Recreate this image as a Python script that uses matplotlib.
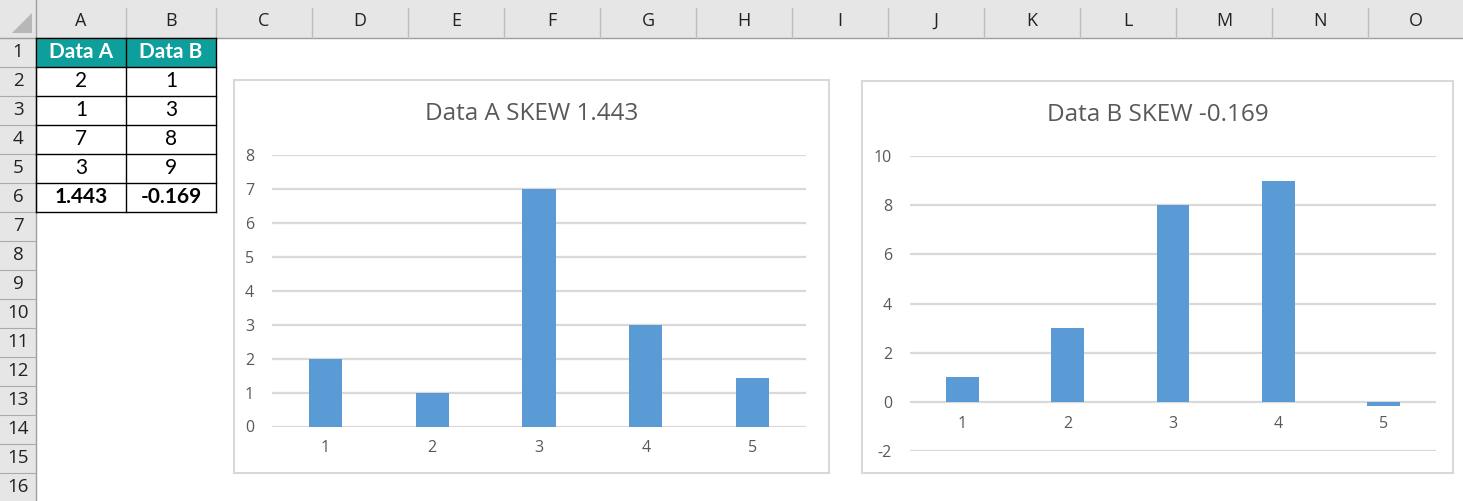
import matplotlib.pyplot as plt
from matplotlib.patches import Rectangle, Polygon

plt.rcParams['axes.unicode_minus'] = False

# spreadsheet contents
col_letters = ['A', 'B', 'C', 'D', 'E', 'F', 'G', 'H', 'I', 'J', 'K', 'L', 'M', 'N', 'O']
row_numbers = list(range(1, 17))
headers = ['Data A', 'Data B']
data_a = [2, 1, 7, 3]
data_b = [1, 3, 8, 9]
skew_a = 1.443
skew_b = -0.169
skew_labels = ['1.443', '-0.169']

# chart series (the values plus the skew cell)
categories = [1, 2, 3, 4, 5]
series_a = data_a + [skew_a]
series_b = data_b + [skew_b]

W, H = 1463, 501
fig = plt.figure(figsize=(W / 100, H / 100), dpi=100)
bg = fig.add_axes([0, 0, 1, 1])
bg.set_xlim(0, W)
bg.set_ylim(H, 0)
bg.axis('off')

cell_font = 'Lato'
head_font = 'Open Sans'
chart_font = 'Open Sans'

# grid geometry
hdr_h = 37.7
row_h = 29.0
rh_w = 36
col_edges = [36, 126, 216]
for i in range(len(col_letters) - 2):
    col_edges.append(col_edges[-1] + 96)

# header backgrounds
bg.add_patch(Rectangle((0, 0), W, hdr_h, color='#E6E6E6', lw=0))
bg.add_patch(Rectangle((0, 0), rh_w, H, color='#E6E6E6', lw=0))
bg.add_patch(Polygon([(12, 33), (32, 33), (32, 13)], color='#B7B7B7', lw=0))
bg.plot([0, W], [hdr_h, hdr_h], color='#9E9E9E', lw=1)
bg.plot([rh_w - 0.5, rh_w - 0.5], [0, H], color='#9E9E9E', lw=1)

for i, letter in enumerate(col_letters):
    x0, x1 = col_edges[i], col_edges[i + 1]
    bg.text((x0 + x1) / 2, 21, letter, ha='center', va='center',
            fontsize=13, family=head_font, color='#222222')
    bg.plot([x1, x1], [8, hdr_h], color='#BDBDBD', lw=1)

for r in row_numbers:
    y0 = hdr_h + (r - 1) * row_h
    bg.text(18, y0 + row_h / 2, str(r), ha='center', va='center',
            fontsize=13.5, family=head_font, color='#222222')
    bg.plot([0, rh_w], [y0 + row_h, y0 + row_h], color='#ABABAB', lw=0.8)

# data table A1:B6
for j, h in enumerate(headers):
    x0, x1 = col_edges[j], col_edges[j + 1]
    bg.add_patch(Rectangle((x0, hdr_h), x1 - x0, row_h, color='#0E9E9B', lw=0))
    bg.text((x0 + x1) / 2, hdr_h + row_h / 2, h, ha='center', va='center',
            fontsize=15, family=cell_font, weight='bold', color='white')

for j, col in enumerate([data_a, data_b]):
    x0, x1 = col_edges[j], col_edges[j + 1]
    for i, v in enumerate(col):
        y0 = hdr_h + (i + 1) * row_h
        bg.text((x0 + x1) / 2, y0 + row_h / 2, str(v), ha='center', va='center',
                fontsize=15, family=cell_font, color='black')
    y0 = hdr_h + 5 * row_h
    bg.text((x0 + x1) / 2, y0 + row_h / 2, skew_labels[j], ha='center', va='center',
            fontsize=15, family=cell_font, weight='bold', color='black')

tb_top, tb_bot = hdr_h, hdr_h + 6 * row_h
for x in col_edges[:3]:
    bg.plot([x, x], [tb_top, tb_bot], color='black', lw=1)
for r in range(7):
    y = hdr_h + r * row_h
    bg.plot([col_edges[0], col_edges[2]], [y, y], color='black', lw=1)

# chart boxes
boxes = [(234, 80, 829, 473), (862, 81, 1453, 473)]
for x0, y0, x1, y1 in boxes:
    bg.add_patch(Rectangle((x0, y0), x1 - x0, y1 - y0, facecolor='white',
                           edgecolor='#D9D9D9', lw=1.5))


def px_axes(left, top, right, bottom):
    return fig.add_axes([left / W, (H - bottom) / H, (right - left) / W, (bottom - top) / H])


def bar_chart(ax, values, yticks, title, box):
    ax.bar(categories, values, width=0.31, color='#5B9BD5', zorder=3)
    ax.set_xlim(0.5, 5.5)
    ax.set_ylim(yticks[0], yticks[-1])
    ax.set_yticks(yticks)
    ax.set_xticks(categories)
    ax.yaxis.grid(True, color='#D9D9D9', lw=1.6)
    ax.set_axisbelow(True)
    for s in ax.spines.values():
        s.set_visible(False)
    ax.spines['bottom'].set_position(('data', 0))
    ax.tick_params(axis='both', length=0, labelsize=11.5, labelcolor='#595959')
    ax.tick_params(axis='x', pad=10)
    ax.tick_params(axis='y', pad=13)
    for lab in ax.get_xticklabels() + ax.get_yticklabels():
        lab.set_family(chart_font)
    ax.patch.set_alpha(0)
    cx = (box[0] + box[2]) / 2
    bg.text(cx, box[1] + 34, title, ha='center', va='center', fontsize=17.5,
            family=chart_font, color='#595959')


axA = px_axes(272, 155, 806, 426.5)
bar_chart(axA, series_a, [0, 1, 2, 3, 4, 5, 6, 7, 8], 'Data A SKEW 1.443', boxes[0])

axB = px_axes(910, 156, 1436, 451)
bar_chart(axB, series_b, [-2, 0, 2, 4, 6, 8, 10], 'Data B SKEW -0.169', boxes[1])

fig.savefig('out.png', dpi=100)
